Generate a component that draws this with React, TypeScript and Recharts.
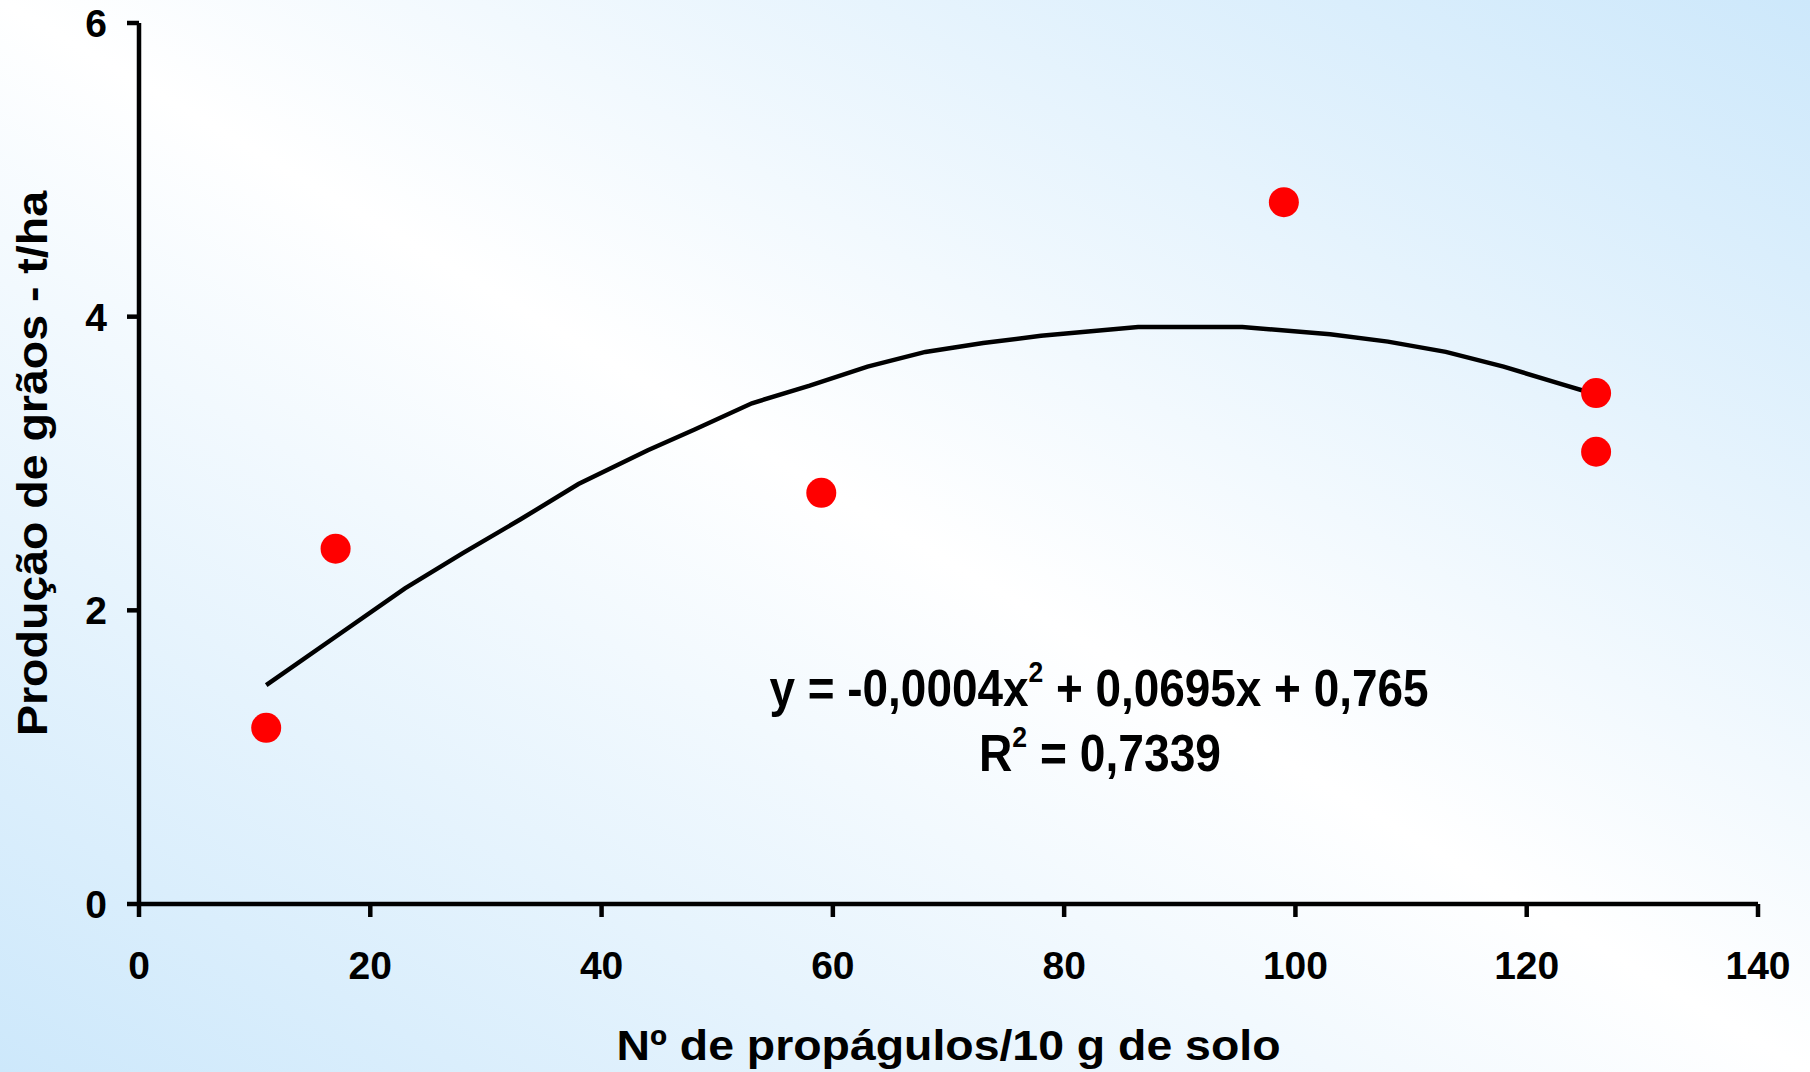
import { ScatterChart, Scatter, XAxis, YAxis } from "recharts";

// pontos observados
const obsX = [11, 17, 59, 99, 126, 126];
const obsY = [1.2, 2.42, 2.8, 4.78, 3.48, 3.08];

// linha de tendência
const trendX = [11, 17, 23, 28, 33, 38, 44, 48, 53, 58, 63, 68, 73, 78, 86.4, 95.4, 103, 108, 113, 118, 123, 126];
const trendY = [1.49, 1.82, 2.15, 2.39, 2.62, 2.86, 3.09, 3.23, 3.41, 3.53, 3.66, 3.76, 3.82, 3.87, 3.93, 3.93, 3.88, 3.83, 3.76, 3.66, 3.54, 3.47];

const xTicks = [0, 20, 40, 60, 80, 100, 120, 140];
const yTicks = [0, 2, 4, 6];

const W = 1810;
const H = 1072;
const FONT = "'Liberation Sans', Arial, sans-serif";

const obs = obsX.map((x, i) => ({ x, y: obsY[i] }));
const trend = trendX.map((x, i) => ({ x, y: trendY[i] }));

const tickStyle = { fontSize: 39, fontWeight: 700, fill: "#000", fontFamily: FONT };
const axisStroke = { stroke: "#000", strokeWidth: 4.5 };

function XTitle(props: any) {
  const vb = props.viewBox;
  const cx = vb.x + vb.width / 2;
  return (
    <text
      x={cx}
      y={1060}
      textAnchor="middle"
      fontFamily={FONT}
      fontWeight={700}
      fontSize={43}
      textLength={664}
      lengthAdjust="spacingAndGlyphs"
      fill="#000"
    >
      Nº de propágulos/10 g de solo
    </text>
  );
}

function YTitle(props: any) {
  const vb = props.viewBox;
  const cy = vb.y + vb.height / 2;
  return (
    <text
      x={47}
      y={cy}
      transform={`rotate(-90 47 ${cy})`}
      textAnchor="middle"
      fontFamily={FONT}
      fontWeight={700}
      fontSize={43}
      textLength={545}
      lengthAdjust="spacingAndGlyphs"
      fill="#000"
    >
      Produção de grãos - t/ha
    </text>
  );
}

export default function App() {
  return (
    <div
      style={{
        position: "absolute",
        left: 0,
        top: 0,
        width: W,
        height: H,
        background: "linear-gradient(to bottom left, #cde8fb 0%, #ffffff 50%, #cde8fb 100%)",
        overflow: "hidden",
      }}
    >
      <ScatterChart width={W} height={H} margin={{ top: 23, right: 52, bottom: 68, left: 39 }}>
        <XAxis
          type="number"
          dataKey="x"
          domain={[0, 140]}
          ticks={xTicks}
          interval={0}
          height={100}
          axisLine={axisStroke}
          tickLine={axisStroke}
          tickSize={13}
          tickMargin={34}
          tick={tickStyle}
          label={{ content: XTitle }}
        />
        <YAxis
          type="number"
          dataKey="y"
          domain={[0, 6]}
          ticks={yTicks}
          interval={0}
          width={100}
          axisLine={axisStroke}
          tickLine={axisStroke}
          tickSize={12}
          tickMargin={20}
          tick={tickStyle}
          label={{ content: YTitle }}
        />
        <Scatter
          data={trend}
          line={{ stroke: "#000", strokeWidth: 4.5 }}
          shape={() => <g />}
          isAnimationActive={false}
        />
        <Scatter
          data={obs}
          shape={(p: any) => <circle cx={p.cx} cy={p.cy} r={15} fill="#ff0000" />}
          isAnimationActive={false}
        />
      </ScatterChart>
      <svg
        width={W}
        height={H}
        style={{ position: "absolute", left: 0, top: 0, pointerEvents: "none" }}
      >
        <text
          x={1099}
          y={706}
          textAnchor="middle"
          fontFamily={FONT}
          fontWeight={700}
          fontSize={52}
          textLength={659}
          lengthAdjust="spacingAndGlyphs"
          fill="#000"
        >
          y = -0,0004x
          <tspan fontSize={30} dy={-24}>2</tspan>
          <tspan dy={24}> + 0,0695x + 0,765</tspan>
        </text>
        <text
          x={1100}
          y={771}
          textAnchor="middle"
          fontFamily={FONT}
          fontWeight={700}
          fontSize={52}
          textLength={242}
          lengthAdjust="spacingAndGlyphs"
          fill="#000"
        >
          R
          <tspan fontSize={30} dy={-24}>2</tspan>
          <tspan dy={24}> = 0,7339</tspan>
        </text>
      </svg>
    </div>
  );
}
